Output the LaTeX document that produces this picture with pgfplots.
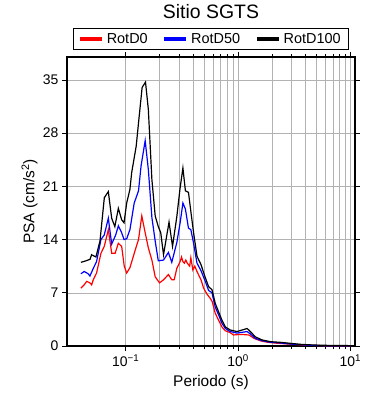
\documentclass[border=0pt]{standalone}
\usepackage{fontspec}
\setmainfont{Liberation Sans}
\usepackage{pgfplots}
\pgfplotsset{compat=1.18}
\begin{document}
\begin{tikzpicture}
\begin{axis}[
  scale only axis,
  width=288bp, height=289bp,
  xmode=log,
  xmin=0.03, xmax=11,
  ymin=0, ymax=38,
  xtick={0.1,1,10},
  xticklabels={10\textsuperscript{−1},10\textsuperscript{0},10\textsuperscript{1}},
  ytick={0,7,14,21,28,35},
  /pgf/number format/assume math mode=true,
  tick label style={font=\fontsize{14}{14}\selectfont},
  tick align=outside,
  major tick length=5bp,
  minor tick length=3bp,
  xmajorgrids, xminorgrids, ymajorgrids,
  grid style={gray!60, line width=0.5pt},
  minor grid style={gray!60, line width=0.5pt},
  axis line style={line width=1.5pt},
  every tick/.style={black, line width=0.6pt},
  title={Sitio SGTS},
  title style={font=\fontsize{19.5}{20}\selectfont, at={(axis description cs:0.5,1.112)}, anchor=base},
  xlabel={Periodo (s)},
  ylabel={PSA (cm/s\textsuperscript{2})},
  label style={font=\fontsize{15.5}{16}\selectfont},
  xlabel style={at={(axis description cs:0.5,-0.128)}, anchor=center},
  ylabel style={at={(axis description cs:-0.13,0.5)}, anchor=center},
  legend columns=3,
  legend style={at={(axis description cs:0.5,1.024)}, anchor=south,
    draw=black, line width=1.2pt, font=\fontsize{14.5}{15}\selectfont,
    nodes={font=\fontsize{14.5}{15}\selectfont, inner xsep=3bp, inner ysep=3bp},
    inner xsep=5bp, inner ysep=1.5bp,
    /tikz/every even column/.append style={column sep=12bp}},
  legend image code/.code={\draw[#1, line width=3.5bp] (0bp,0bp) -- (22bp,0bp);},
]
\addplot[red, line width=1.2pt] coordinates {
(0.0399,7.6)(0.0427,8.05)(0.045,8.5)(0.048,8.3)(0.0497,8.05)(0.0514,8.7)(0.055,9.6)
(0.0602,12.2)(0.0644,13.1)(0.070,15.3)(0.075,12.2)(0.0805,12.2)(0.0859,13.5)(0.092,13.1)
(0.097,10.5)(0.102,9.6)(0.109,10.3)(0.122,12.7)(0.130,14.0)(0.139,17.1)(0.149,14.9)
(0.159,12.9)(0.171,11.3)(0.183,9.1)(0.200,8.3)(0.217,8.7)(0.240,9.4)(0.257,8.7)
(0.27,8.7)(0.285,10.2)(0.305,11.1)(0.314,11.7)(0.323,11.1)(0.333,10.9)(0.343,11.3)
(0.353,10.9)(0.371,10.5)(0.380,11.6)(0.396,10.0)(0.412,10.5)(0.431,9.8)(0.468,8.7)
(0.494,7.6)(0.53,6.8)(0.57,6.2)(0.59,5.8)(0.627,4.3)(0.671,3.4)(0.719,2.5)(0.771,2.0)
(0.853,1.75)(0.91,1.45)(1.0,1.5)(1.12,1.5)(1.25,1.45)(1.39,1.0)(1.6,0.66)(1.85,0.48)
(2.3,0.35)(2.8,0.26)(3.4,0.18)(4.42,0.09)(5.43,0.05)(7.14,0.03)(10,0.02)
};
\addlegendentry{RotD0}
\addplot[blue, line width=1.2pt] coordinates {
(0.0399,9.5)(0.0427,9.8)(0.0463,9.5)(0.048,9.2)(0.0514,10.2)(0.055,11.1)(0.0602,14.0)
(0.0644,14.6)(0.070,16.8)(0.075,13.4)(0.0814,14.6)(0.086,15.8)(0.092,14.9)(0.0966,14.0)
(0.102,14.1)(0.109,15.3)(0.119,18.8)(0.130,20.4)(0.137,23.7)(0.149,27.0)(0.159,23.2)
(0.171,16.9)(0.183,13.8)(0.195,11.2)(0.217,11.3)(0.240,12.3)(0.257,11.0)(0.285,13.6)
(0.305,16.2)(0.323,18.8)(0.340,18.0)(0.362,15.5)(0.380,15.3)(0.402,13.5)(0.431,10.9)
(0.468,9.9)(0.511,8.5)(0.547,7.3)(0.586,7.0)(0.627,5.1)(0.671,4.1)(0.719,3.0)(0.771,2.3)
(0.853,1.9)(0.979,1.7)(1.086,1.8)(1.203,1.9)(1.288,1.6)(1.426,1.0)(1.636,0.7)(1.94,0.49)
(2.39,0.40)(2.93,0.26)(3.6,0.18)(4.42,0.09)(5.43,0.05)(7.14,0.03)(10,0.02)
};
\addlegendentry{RotD50}
\addplot[black, line width=1.2pt] coordinates {
(0.0399,11.0)(0.0443,11.2)(0.0481,11.4)(0.0497,12.0)(0.0543,11.7)(0.059,13.8)(0.0645,19.5)
(0.070,20.3)(0.075,16.8)(0.080,15.7)(0.086,18.1)(0.092,16.6)(0.0966,16.2)(0.102,18.8)
(0.109,20.6)(0.113,22.8)(0.124,26.3)(0.132,30.3)(0.140,34.0)(0.150,34.7)(0.159,31.1)
(0.171,21.9)(0.183,17.1)(0.195,15.7)(0.205,14.9)(0.217,12.0)(0.243,16.3)(0.261,13.1)
(0.285,17.0)(0.305,20.8)(0.323,23.4)(0.340,20.4)(0.362,20.2)(0.380,17.7)(0.402,14.9)
(0.431,11.8)(0.468,10.7)(0.511,9.0)(0.547,7.8)(0.586,7.4)(0.598,6.9)(0.627,5.6)
(0.671,4.5)(0.719,3.4)(0.771,2.5)(0.853,2.1)(0.979,1.9)(1.086,2.1)(1.203,2.3)(1.288,1.9)
(1.426,1.2)(1.636,0.8)(1.94,0.57)(2.39,0.48)(2.93,0.35)(3.6,0.22)(4.42,0.15)(5.43,0.10)
(7.14,0.07)(10,0.05)
};
\addlegendentry{RotD100}
\end{axis}
\pgfresetboundingbox
\path (-67bp,-54bp) rectangle (323bp,346bp);
\end{tikzpicture}
\end{document}
